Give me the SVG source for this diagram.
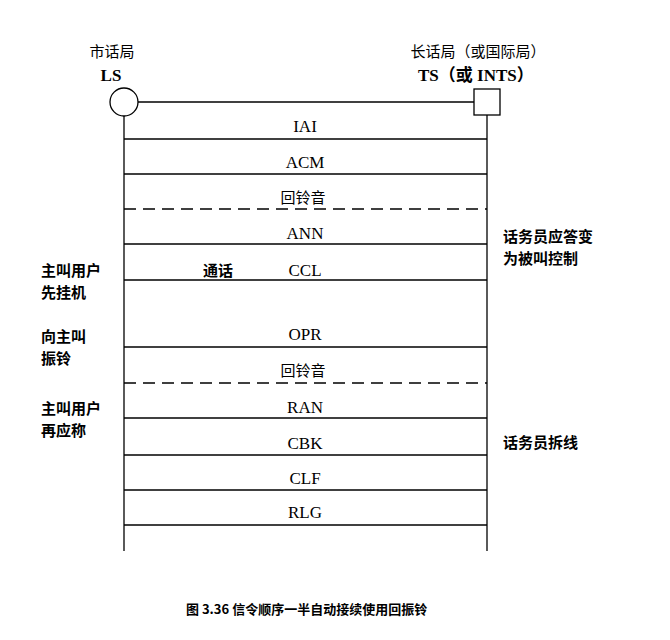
<svg xmlns="http://www.w3.org/2000/svg" width="670" height="640" viewBox="0 0 670 640">
<style>
.l{stroke:#000;stroke-width:1.3;fill:none}
.d{stroke-dasharray:12,7}
text{font-family:"Liberation Serif","Noto Sans CJK SC",serif;font-size:17px;fill:#000}
.c{font-family:"Noto Sans CJK SC",sans-serif;font-size:15px}
.b{font-weight:bold}
.m{text-anchor:middle}
</style>
<rect width="670" height="640" fill="#fff"/>
<g id="LS">
<text class="c m" x="112" y="57">市话局</text>
<text class="b m" x="111" y="81">LS</text>
<circle class="l" cx="124" cy="102" r="14" stroke-width="2"/>
<line class="l" x1="124" y1="116" x2="124" y2="551"/>
</g>
<g id="TS">
<text class="c m" x="478" y="57">长话局（或国际局）</text>
<text class="b" x="418" y="81">TS（或 INTS）</text>
<rect class="l" x="474" y="89" width="26" height="26" stroke-width="2"/>
<line class="l" x1="487" y1="115" x2="487" y2="551"/>
</g>
<g id="connectors">
<line class="l" x1="138" y1="102" x2="474" y2="102"/>
<line class="l" x1="124" y1="139" x2="487" y2="139"/>
<line class="l" x1="124" y1="174" x2="487" y2="174"/>
<line class="l d" x1="124" y1="209" x2="487" y2="209"/>
<line class="l" x1="124" y1="244" x2="487" y2="244"/>
<line class="l" x1="124" y1="280" x2="487" y2="280"/>
<line class="l" x1="124" y1="347" x2="487" y2="347"/>
<line class="l d" x1="124" y1="383" x2="487" y2="383"/>
<line class="l" x1="124" y1="418" x2="487" y2="418"/>
<line class="l" x1="124" y1="455" x2="487" y2="455"/>
<line class="l" x1="124" y1="490" x2="487" y2="490"/>
<line class="l" x1="124" y1="525" x2="487" y2="525"/>
</g>
<g id="labels">
<text class="m" x="305" y="132">IAI</text>
<text class="m" x="305" y="168">ACM</text>
<text class="c m" x="303" y="203">回铃音</text>
<text class="m" x="305" y="239">ANN</text>
<text class="c b" x="203" y="276">通话</text>
<text class="m" x="305" y="276">CCL</text>
<text class="m" x="305" y="340">OPR</text>
<text class="c m" x="303" y="376">回铃音</text>
<text class="m" x="305" y="413">RAN</text>
<text class="m" x="305" y="449">CBK</text>
<text class="m" x="305" y="484">CLF</text>
<text class="m" x="305" y="518">RLG</text>
</g>
<g id="notes">
<text class="c b" x="41" y="276">主叫用户</text>
<text class="c b" x="41" y="298">先挂机</text>
<text class="c b" x="41" y="342">向主叫</text>
<text class="c b" x="41" y="364">振铃</text>
<text class="c b" x="41" y="414">主叫用户</text>
<text class="c b" x="41" y="436">再应称</text>
<text class="c b" x="503" y="242">话务员应答变</text>
<text class="c b" x="503" y="264">为被叫控制</text>
<text class="c b" x="503" y="448">话务员拆线</text>
</g>
<text class="c b" x="186" y="614" style="font-size:13px">图 3.36 信令顺序一半自动接续使用回振铃</text>
</svg>
